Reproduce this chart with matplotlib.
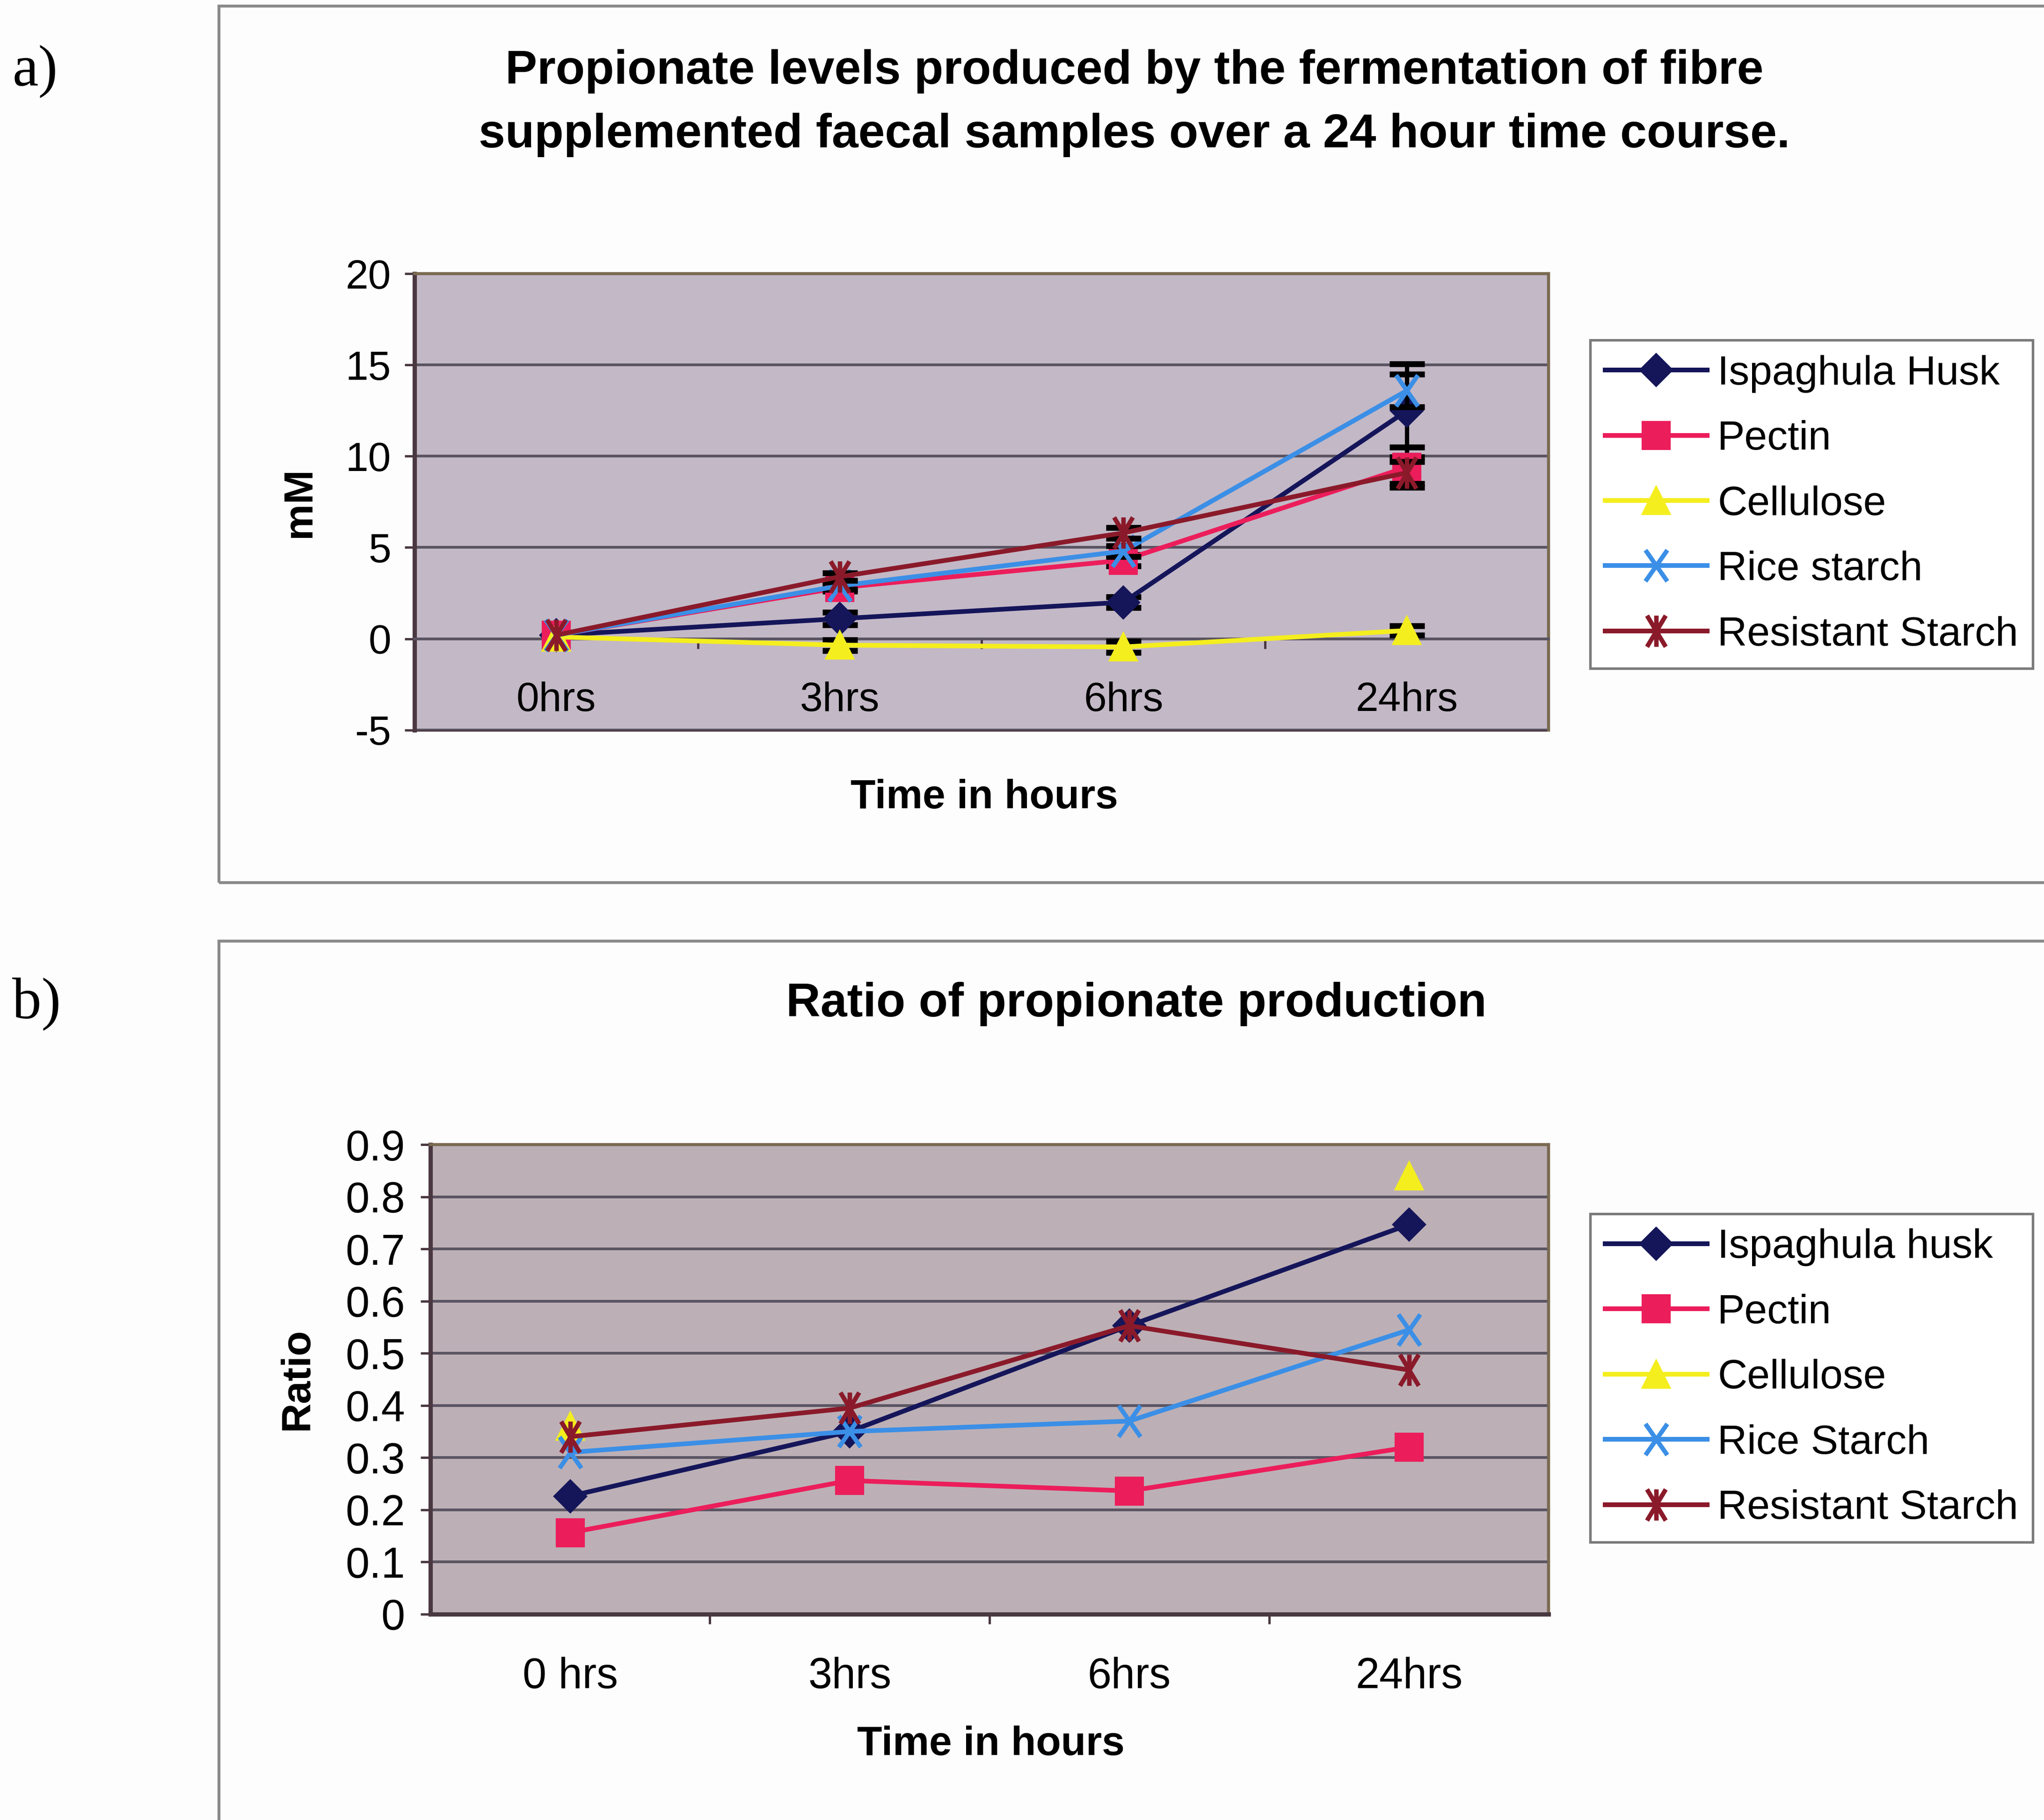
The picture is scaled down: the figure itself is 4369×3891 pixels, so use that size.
import numpy as np
import matplotlib.pyplot as plt
from matplotlib.path import Path
from matplotlib.patches import Rectangle

plt.rcParams["font.family"] = ["Liberation Sans", "DejaVu Sans"]
plt.rcParams["axes.unicode_minus"] = False

# categories
times_a = ["0hrs", "3hrs", "6hrs", "24hrs"]
times_b = ["0 hrs", "3hrs", "6hrs", "24hrs"]
fibres_a = ["Ispaghula Husk", "Pectin", "Cellulose", "Rice starch", "Resistant Starch"]
fibres_b = ["Ispaghula husk", "Pectin", "Cellulose", "Rice Starch", "Resistant Starch"]

# a) propionate levels (mM)
ispaghula_mM = [0.2, 1.1, 2.0, 12.5]
pectin_mM = [0.2, 2.8, 4.3, 9.4]
cellulose_mM = [0.1, -0.35, -0.45, 0.45]
rice_mM = [0.2, 2.9, 4.8, 13.6]
resistant_mM = [0.2, 3.4, 5.8, 9.1]

# a) error bars (mM)
ispaghula_err = [0.0, 0.35, 0.3, 2.55]
pectin_err = [0.0, 0.2, 0.3, 1.1]
cellulose_err = [0.0, 0.3, 0.3, 0.25]
rice_err = [0.0, 0.2, 0.3, 0.9]
resistant_err = [0.0, 0.2, 0.3, 0.6]

# b) ratio of propionate production
ispaghula_ratio = [0.226, 0.35, 0.553, 0.747]
pectin_ratio = [0.156, 0.256, 0.236, 0.32]
cellulose_ratio = [0.36, np.nan, np.nan, 0.84]
rice_ratio = [0.31, 0.35, 0.37, 0.545]
resistant_ratio = [0.34, 0.395, 0.553, 0.468]

# markers
asterisk = Path([(0, -1), (0, 1), (-0.6, -1), (0.6, 1), (-0.6, 1), (0.6, -1)],
                [Path.MOVETO, Path.LINETO] * 3)
cross = Path([(-0.7, -1), (0.7, 1), (-0.7, 1), (0.7, -1)],
             [Path.MOVETO, Path.LINETO] * 2)

colors = ["#15155a", "#ec1d5b", "#f4ee1e", "#3b8fe6", "#8a1a2a"]
markers = ["D", "s", "^", cross, asterisk]
msizes = [11.5, 14, 14, 16, 16]
filled = [True, True, True, False, False]

grid_col = "#5a5462"
frame_col = "#4a3840"

fig = plt.figure(figsize=(4369 / 300, 3891 / 300), dpi=300)
fig.patch.set_facecolor("#fdfdfe")

# chart frames
fig.add_artist(Rectangle((0.1071, 0.515), 1.0, 0.4817, transform=fig.transFigure,
                         fill=False, edgecolor="#8a8a8a", lw=1.5))
fig.add_artist(Rectangle((0.1071, -0.1), 1.0, 0.5828, transform=fig.transFigure,
                         fill=False, edgecolor="#8a8a8a", lw=1.5))


def draw_series(ax, series, errs=None):
    handles = []
    for i, ys in enumerate(series):
        x = np.arange(len(ys))
        if errs is not None:
            e = np.array(errs[i])
            m = e > 0
            ax.errorbar(x[m], np.array(ys)[m], yerr=e[m], fmt="none", ecolor="black",
                        elinewidth=2.2, capsize=9, capthick=3, zorder=3 + i)
        kw = dict(color=colors[i], lw=2.4, marker=markers[i], markersize=msizes[i],
                  zorder=3 + i)
        if filled[i]:
            kw.update(markerfacecolor=colors[i], markeredgecolor=colors[i],
                      markeredgewidth=1)
        else:
            kw.update(markerfacecolor="none", markeredgecolor=colors[i],
                      markeredgewidth=2.3)
        (ln,) = ax.plot(x, ys, **kw)
        handles.append(ln)
    return handles


def style_axes(ax, bg):
    ax.set_facecolor(bg)
    ax.patch.set_edgecolor(frame_col)
    ax.patch.set_linewidth(1.5)
    ax.set_axisbelow(True)
    ax.yaxis.grid(True, color=grid_col, lw=1.4)
    for s in ["top", "right"]:
        ax.spines[s].set_color("#7a6a50")
        ax.spines[s].set_linewidth(1.5)
    ax.spines["left"].set_color(frame_col)
    ax.spines["left"].set_linewidth(2.2)
    ax.set_xlim(-0.5, 3.5)
    ax.set_xticks(np.arange(0.5, 3.5, 1.0), minor=True)
    ax.tick_params(axis="x", which="major", length=0, pad=22, labelsize=21)
    ax.tick_params(axis="x", which="minor", length=5, width=1.2, direction="out",
                   color=frame_col)
    ax.tick_params(axis="y", length=5, width=1.2, color=frame_col, pad=7, labelsize=21)


leg_kw = dict(loc="upper left", bbox_transform=fig.transFigure, frameon=True,
              fancybox=False, edgecolor="#7a7a7a", facecolor="white", framealpha=1,
              fontsize=21, handlelength=2.5, handletextpad=0.25, labelspacing=0.668,
              borderpad=0.36, borderaxespad=0)

# ---------------- a) ----------------
ax1 = fig.add_axes([0.2028, 0.5989, 0.5549, 0.2507])
style_axes(ax1, "#c3b8c6")
ax1.set_ylim(-5, 20)
ax1.set_yticks(range(-5, 21, 5))
ax1.set_xticks(range(4))
ax1.set_xticklabels(times_a)
ax1.spines["bottom"].set_position(("data", 0))
ax1.spines["bottom"].set_color(grid_col)
ax1.spines["bottom"].set_linewidth(1.4)
h1 = draw_series(ax1, [ispaghula_mM, pectin_mM, cellulose_mM, rice_mM, resistant_mM],
                 [ispaghula_err, pectin_err, cellulose_err, rice_err, resistant_err])
l1 = ax1.legend(h1, fibres_a, bbox_to_anchor=(0.778, 0.8131), **leg_kw)
l1.get_frame().set_linewidth(1.3)

fig.text(0.555, 0.9434, "Propionate levels produced by the fermentation of fibre\n"
         "supplemented faecal samples over a 24 hour time course.",
         ha="center", va="center", fontsize=24.5, fontweight="bold", linespacing=1.55)
fig.text(0.4815, 0.5616, "Time in hours", ha="center", va="center",
         fontsize=21, fontweight="bold")
fig.text(0.1467, 0.7242, "mM", ha="center", va="center", rotation=90,
         fontsize=21, fontweight="bold")
fig.text(0.006, 0.9606, "a)", ha="left", va="center", fontsize=30,
         family=["Liberation Serif", "DejaVu Serif"])

# ---------------- b) ----------------
ax2 = fig.add_axes([0.2105, 0.1132, 0.5472, 0.2578])
style_axes(ax2, "#bcb0b6")
ax2.set_ylim(0, 0.9)
ax2.set_yticks(np.round(np.arange(0, 0.91, 0.1), 1))
ax2.set_yticklabels(["0"] + [f"{v:.1f}" for v in np.arange(0.1, 0.91, 0.1)])
ax2.set_xticks(range(4))
ax2.set_xticklabels(times_b)
ax2.spines["bottom"].set_color(frame_col)
ax2.spines["bottom"].set_linewidth(2.2)
ax2.tick_params(axis="y", pad=8, labelsize=22)
ax2.tick_params(axis="x", which="major", labelsize=22)
h2 = draw_series(ax2, [ispaghula_ratio, pectin_ratio, cellulose_ratio, rice_ratio,
                       resistant_ratio])
l2 = ax2.legend(h2, fibres_b, bbox_to_anchor=(0.778, 0.3331), **leg_kw)
l2.get_frame().set_linewidth(1.3)

fig.text(0.556, 0.4484, "Ratio of propionate production", ha="center", va="center",
         fontsize=24.5, fontweight="bold")
fig.text(0.4847, 0.0415, "Time in hours", ha="center", va="center",
         fontsize=21, fontweight="bold")
fig.text(0.1454, 0.2421, "Ratio", ha="center", va="center", rotation=90,
         fontsize=21, fontweight="bold")
fig.text(0.006, 0.4484, "b)", ha="left", va="center", fontsize=30,
         family=["Liberation Serif", "DejaVu Serif"])

fig.savefig("out.png", dpi=300)
